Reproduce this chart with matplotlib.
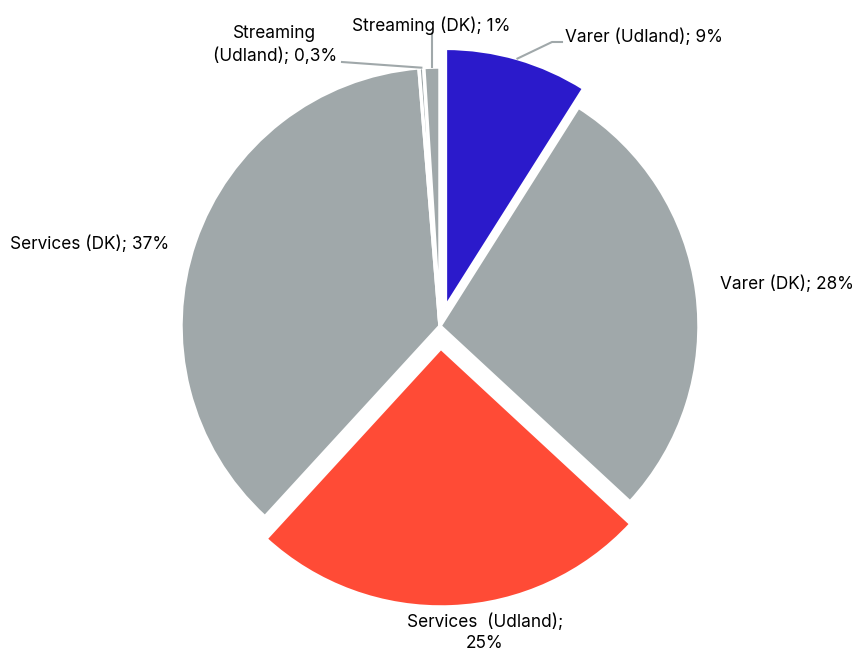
import matplotlib.pyplot as plt
import numpy as np

plt.rcParams['font.family'] = ['Inter', 'DejaVu Sans']

# Andele (pct.) - rækkefølge med uret fra kl. 12
labels = ['Varer (Udland); 9%', 'Varer (DK); 28%', 'Services  (Udland);\n25%',
          'Services (DK); 37%', 'Streaming\n(Udland); 0,3%', 'Streaming (DK); 1%']
values = [9, 28, 25, 37, 0.3, 1]
colors = ['#2B1ACB', '#A0A8AA', '#FF4B36', '#A0A8AA', '#A0A8AA', '#A0A8AA']
explode = [0.075, 0, 0.085, 0, 0, 0]

W, H = 854, 652
CX, CY, R = 440, 326, 259  # pie centre and radius in pixels


def px(x, y):
    # pixel position -> data units (1 unit = pie radius)
    return (x - CX) / R, (CY - y) / R


fig = plt.figure(figsize=(W / 100, H / 100), dpi=100)
ax = fig.add_axes([0, 0, 1, 1])
ax.pie(values, colors=colors, explode=explode, startangle=90, counterclock=False,
       radius=1, center=(0, 0),
       wedgeprops=dict(edgecolor='white', linewidth=2.5))
x0, y0 = px(0, 0)
x1, y1 = px(W, H)
ax.set_xlim(x0, x1)
ax.set_ylim(y1, y0)
ax.set_aspect('auto')
ax.axis('off')

# mid-angles of each wedge
frac = np.array(values) / sum(values)
start = np.concatenate([[0], np.cumsum(frac)[:-1]])
mid = np.deg2rad((start + frac / 2) * 360)


def edge(i, r=1.0):
    rr = r + explode[i]
    return np.sin(mid[i]) * rr, np.cos(mid[i]) * rr


fs = 12.4
lc = '#A0A8AA'

# Varer (Udland)
ex, ey = edge(0)
ax.plot([ex, px(552, 42)[0], px(562, 42)[0]], [ey, px(552, 42)[1], px(562, 42)[1]],
        color=lc, lw=1.5)
ax.text(*px(565, 37), labels[0], fontsize=fs, ha='left', va='center')

# Varer (DK)
ax.text(*px(720, 284), labels[1], fontsize=fs, ha='left', va='center')

# Services (Udland)
ax.text(*px(485, 633), labels[2], fontsize=fs, ha='center', va='center',
        linespacing=1.3)

# Services (DK)
ax.text(*px(10, 244), labels[3], fontsize=fs, ha='left', va='center')

# Streaming (Udland)
ex, ey = edge(4)
ax.plot([ex, px(342, 62)[0]], [ey, px(342, 62)[1]], color=lc, lw=1.5)
ax.text(*px(275, 45), labels[4], fontsize=fs, ha='center', va='center',
        linespacing=1.35)

# Streaming (DK)
ex, ey = edge(5)
ax.plot([ex, ex], [ey, px(0, 33)[1]], color=lc, lw=1.5)
ax.text(*px(352, 26), labels[5], fontsize=fs, ha='left', va='center')

fig.savefig('out.png', dpi=100, facecolor='white')
